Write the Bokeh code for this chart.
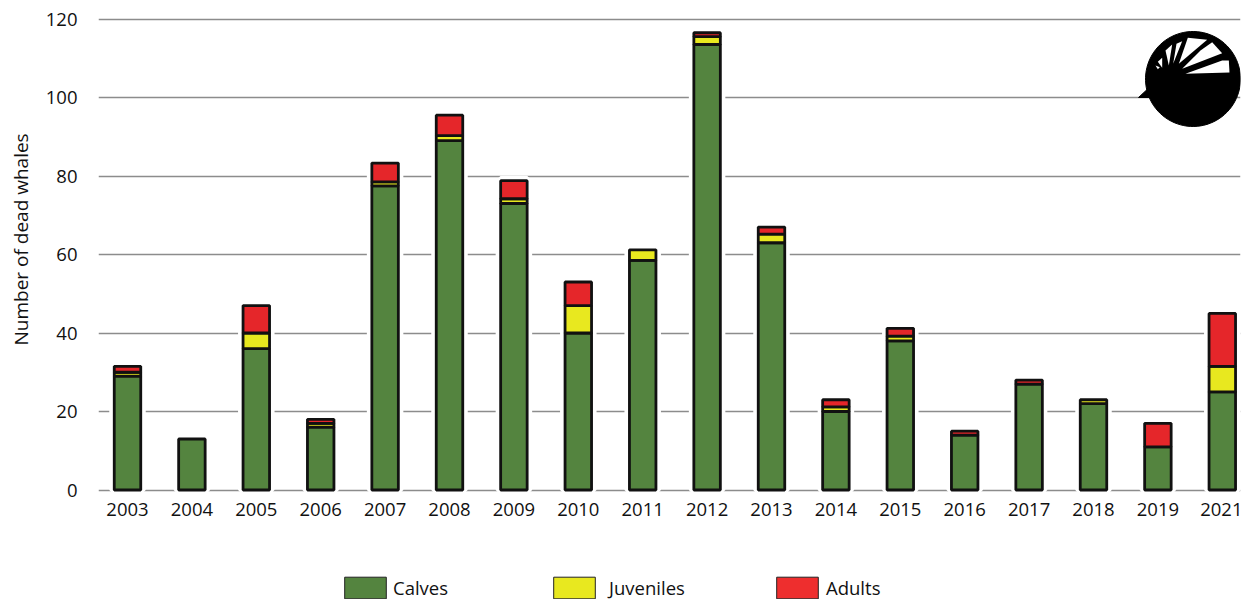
import numpy as np
from bokeh.plotting import figure
from bokeh.models import Range1d, Legend, LegendItem, FixedTicker, ColumnDataSource, Title
from bokeh.embed import file_html
from bokeh.resources import INLINE

years = ["2003","2004","2005","2006","2007","2008","2009","2010","2011","2012","2013","2014","2015","2016","2017","2018","2019","2021"]
calves = [29,13,36,16,77.5,89,73,40,58.5,113.5,63,20,38,14,27,22,11,25]
juveniles = [1,0,4,1,1,1.3,1.2,7,2.7,2,2.2,1.2,1.2,0,0,1,0,6.5]
adults = [1.5,0,7,1,4.8,5.2,4.6,6,0,1,1.8,1.8,2,1,1,0,6,13.5]
yticks = [0,20,40,60,80,100,120]
GREEN, YELLOW, RED = "#54843F", "#E8E81F", "#E5262A"
LEGEND_RED = "#EE2E2E"
FONT = "Open Sans"

xs = list(range(len(years)))
c = np.array(calves); j = np.array(juveniles); a = np.array(adults)
PX_X = 64.4; PX_Y = 3.925
def dx(px): return (np.asarray(px, float) - 127) / PX_X
def dy(py): return (489.5 - np.asarray(py, float)) / PX_Y

p = figure(width=1242, height=599, output_backend="svg", toolbar_location=None,
           x_range=Range1d(float(dx(98)), float(dx(1240))), y_range=Range1d(float(dy(599)), float(dy(0))),
           min_border_left=98, min_border_right=2, min_border_top=0, min_border_bottom=0,
           background_fill_color="white", outline_line_color=None)
p.xgrid.visible = False
p.ygrid.ticker = FixedTicker(ticks=yticks)
p.ygrid.grid_line_color = "#8C8C8C"
p.ygrid.grid_line_width = 1.6

p.xaxis.ticker = FixedTicker(ticks=xs)
p.xaxis.major_label_overrides = {i: y for i, y in zip(xs, years)}
p.xaxis.fixed_location = float(dy(495))
p.yaxis.ticker = FixedTicker(ticks=yticks)
for ax in (p.xaxis[0], p.yaxis[0]):
    ax.axis_line_color = None
    ax.major_tick_line_color = None
    ax.minor_tick_line_color = None
    ax.major_tick_out = 0
    ax.major_tick_in = 0
    ax.major_label_text_font = FONT
    ax.major_label_text_font_size = "18.5px"
    ax.major_label_text_color = "#111111"
p.xaxis.major_label_standoff = 7
p.yaxis.major_label_standoff = 21

p.add_layout(Title(text="Number of dead whales", align="left", offset=254, standoff=14, vertical_align="top",
                   text_font=FONT, text_font_size="19px", text_font_style="normal", text_color="#111111"), "left")

W = 26.5 / PX_X
LW = 2.8
src = ColumnDataSource(dict(x=xs, b0=0*c, c=c, cj=c+j, t=c+j+a))
p.vbar(x="x", bottom="b0", top="t", width=W, source=src, fill_color="white", line_color="white", line_width=10)
p.vbar(x="x", bottom="b0", top="c", width=W, source=src, fill_color=GREEN, line_color="#111111", line_width=LW)
mj = j > 0
p.vbar(x=np.array(xs)[mj], bottom=c[mj], top=(c+j)[mj], width=W, fill_color=YELLOW, line_color="#111111", line_width=LW)
ma = a > 0
p.vbar(x=np.array(xs)[ma], bottom=(c+j)[ma], top=(c+j+a)[ma], width=W, fill_color=RED, line_color="#111111", line_width=LW)

# Logo (decorative): filled disc with fan of white slots; outline given in reference pixels
th = np.linspace(0, 2*np.pi, 90)
cx, cy, R = 1192.5, 78.5, 47.5
logo_x = cx + R*np.cos(th); logo_y = cy + R*np.sin(th)
p.patch(dx(logo_x), dy(logo_y), fill_color="black", line_color="black", line_width=1)
p.patch(dx([1138, 1152, 1156, 1150]), dy([97, 84, 90, 97]), fill_color="black", line_color="black")
def z(px_list):  # zoom-crop coords to page pixels
    return [1100 + q[0]/3 for q in px_list], [q[1]/3 for q in px_list]
slots = [
    [(255,220),(365,180),(385,180),(387,216)],
    [(245,205),(365,158),(335,125),(300,150)],
    [(235,190),(320,118),(262,112)],
    [(218,190),(245,122),(228,130)],
    [(205,195),(215,132),(195,150)],
    [(185,202),(185,172),(172,184)],
    [(172,206),(178,200),(165,195)],
]
for s in slots:
    sx, sy = z(s)
    p.patch(dx(sx), dy(sy), fill_color="white", line_color=None)

# Legend swatches use off-screen renderers so the outline is thinner than on the bars
def key(col):
    return p.vbar(x=[0], bottom=[-500], top=[-499], width=W, fill_color=col, line_color="#222222", line_width=1)
for label, col, left, standoff in [("Calves", GREEN, 344, 2), ("Juveniles", YELLOW, 553, 9), ("Adults", LEGEND_RED, 776, 3)]:
    r = key(col)
    lg = Legend(items=[LegendItem(label=label, renderers=[r])], location=(left-98-5, -2),
                glyph_width=52, glyph_height=27, padding=0, margin=0, spacing=0, label_standoff=standoff,
                border_line_color=None, background_fill_alpha=0,
                label_text_font=FONT, label_text_font_size="18.5px", label_text_color="#111111", label_height=27)
    p.add_layout(lg, "center")

open("out.html", "w").write(file_html(p, INLINE))
